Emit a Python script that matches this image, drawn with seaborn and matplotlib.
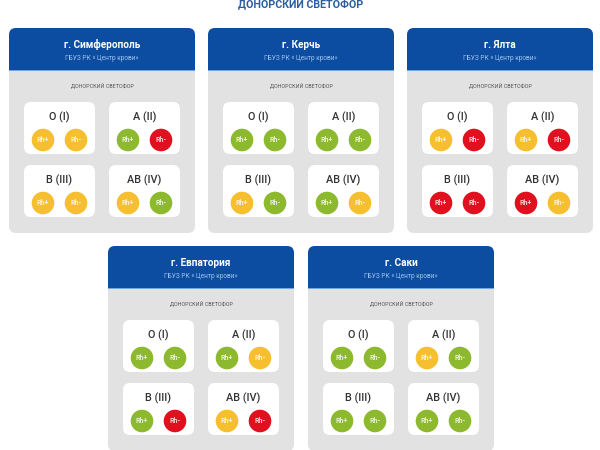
import matplotlib
matplotlib.use("Agg")
import matplotlib.pyplot as plt
from matplotlib.patches import FancyBboxPatch, Rectangle
import pandas as pd
import seaborn as sns

sns.set_theme(style="white")
plt.rcParams['font.family'] = ['Roboto', 'DejaVu Sans']

main_title = "ДОНОРСКИЙ СВЕТОФОР"
subtitle = "ГБУЗ РК « Центр крови»"
section = "ДОНОРСКИЙ СВЕТОФОР"
cities = ["г. Симферополь", "г. Керчь", "г. Ялта", "г. Евпатория", "г. Саки"]
groups = ["O (I)", "A (II)", "B (III)", "AB (IV)"]
rh_labels = ["Rh+", "Rh-"]

simferopol = ["y", "y", "g", "r", "y", "y", "y", "g"]
kerch = ["g", "g", "g", "g", "y", "g", "g", "y"]
yalta = ["y", "r", "y", "r", "r", "r", "r", "y"]
evpatoria = ["g", "g", "g", "y", "g", "r", "y", "r"]
saki = ["g", "g", "y", "g", "g", "g", "g", "g"]
statuses = [simferopol, kerch, yalta, evpatoria, saki]

BLUE = "#0C4DA2"
GREY = "#E2E2E2"
palette = {"g": "#8DB92E", "y": "#F5BF30", "r": "#E0101E"}

card_x = [9, 208, 407, 108, 308]
card_y = [28, 28, 28, 246, 246]
CARD_W, CARD_H, HEAD_H = 186, 205, 42

fig = plt.figure(figsize=(6, 4.5), dpi=100, facecolor="white")
ax = fig.add_axes([0, 0, 1, 1])
ax.set_xlim(0, 600)
ax.set_ylim(450, 0)
ax.axis("off")


def rounded(x, y, w, h, r, color, z):
    p = FancyBboxPatch((x + r, y + r), w - 2 * r, h - 2 * r,
                       boxstyle=f"round,pad={r},rounding_size={r}",
                       fc=color, ec="none", zorder=z)
    ax.add_patch(p)
    return p


ax.text(301, 5, main_title, ha="center", va="center", color="#2F5E9E",
        fontsize=7.7, fontweight="bold")

rows = []
for c, city in enumerate(cities):
    x0, y0 = card_x[c], card_y[c]
    rounded(x0, y0, CARD_W, CARD_H, 7, GREY, 1)
    head = rounded(x0, y0, CARD_W, HEAD_H + 12, 7, BLUE, 2)
    clip = Rectangle((x0, y0), CARD_W, HEAD_H, transform=ax.transData)
    head.set_clip_path(clip)
    ax.add_patch(Rectangle((x0, y0 + HEAD_H), CARD_W, 1, fc="#6FA8E0", ec="none", zorder=3))
    ax.text(x0 + 93, y0 + 17, city, ha="center", va="center", color="white",
            fontsize=7.2, fontweight="bold", zorder=4)
    ax.text(x0 + 93, y0 + 30, subtitle, ha="center", va="center", color="#9CC3EC",
            fontsize=4.7, zorder=4)
    ax.text(x0 + 93, y0 + 57, section, ha="center", va="center", color="#555555",
            fontsize=3.9, zorder=4)
    for g, group in enumerate(groups):
        bx = x0 + 15 + (g % 2) * 85
        by = y0 + 74 + (g // 2) * 63
        rounded(bx, by, 71, 52, 7, "white", 3)
        ax.text(bx + 35.5, by + 15, group, ha="center", va="center",
                color="#333333", fontsize=7.8, fontweight="medium", zorder=4)
        for k in range(2):
            cx = bx + 19 + k * 33
            cy = by + 38
            rows.append(dict(x=cx, y=cy, status=statuses[c][g * 2 + k]))
            ax.text(cx, cy, rh_labels[k], ha="center", va="center", color="#FFFFFFCC",
                    fontsize=5, fontweight="bold", zorder=6)

df = pd.DataFrame(rows)
sns.scatterplot(data=df, x="x", y="y", hue="status", palette=palette, s=265,
                linewidth=0, legend=False, ax=ax, zorder=5)
ax.set_xlim(0, 600)
ax.set_ylim(450, 0)

fig.savefig("out.png", dpi=100)
